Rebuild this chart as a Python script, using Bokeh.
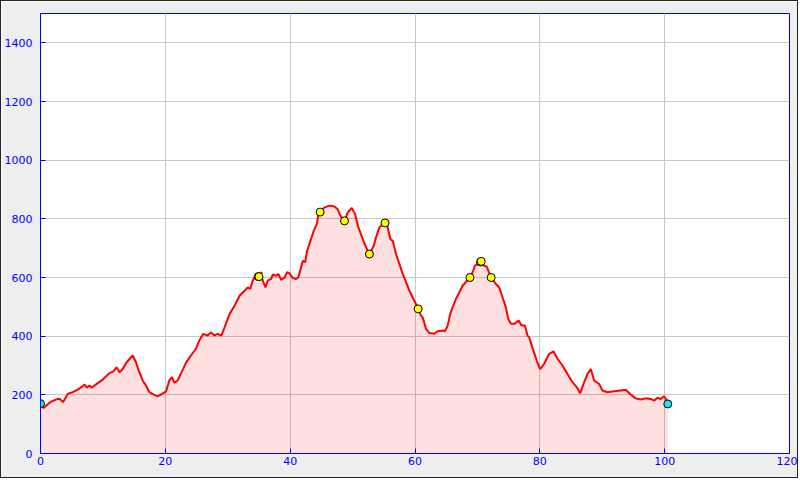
from bokeh.plotting import figure
from bokeh.models import Range1d, FixedTicker
from bokeh.embed import file_html
from bokeh.resources import INLINE

# Distance (km) and elevation (m) of the profile
km = [0, 0.5, 1.7, 2.77, 3.1, 3.6, 4.4, 5.17, 5.97, 6.56, 7.07, 7.41, 7.84, 8.18,
      9.17, 9.87, 11.04, 11.68, 12.18, 12.66, 13.17, 13.8, 14.77, 15.3, 15.73,
      16.37, 16.9, 17.44, 18.24, 18.77, 19.47, 20.1, 20.64, 21.07, 21.44, 21.97,
      22.67, 23.3, 24.1, 24.9, 25.44, 26.08, 26.77, 27.3, 27.84, 28.37, 28.96,
      29.49, 30.3, 31.1, 31.9, 32.7, 33.2, 33.6, 34.0, 34.56, 34.93, 35.36, 35.6,
      36.05, 36.4, 36.96, 37.2, 37.76, 38.1, 38.56, 39.1, 39.52, 39.9, 40.43,
      40.96, 41.3, 41.6, 42.03, 42.4, 42.72, 43.25, 43.79, 44.27, 44.53, 44.8,
      45.5, 46.3, 47.1, 47.6, 48.05, 48.7, 49.23, 49.87, 50.4, 50.93, 51.63,
      52.16, 52.69, 53.4, 53.76, 54.3, 54.56, 55.2, 55.63, 56.05, 56.43, 56.96,
      57.5, 58.03, 58.56, 59.1, 59.63, 60.53, 60.96, 61.23, 61.76, 62.3, 63.1,
      63.63, 64.43, 64.8, 65.23, 65.65, 66.03, 66.56, 67.1, 67.63, 68.8, 69.23,
      69.6, 70.1, 70.56, 71.1, 71.5, 72.16, 72.96, 73.5, 74.03, 74.56, 74.93,
      75.36, 75.9, 76.6, 77.07, 77.6, 78.03, 78.3, 78.83, 79.5, 80.05, 80.7,
      81.5, 82.2, 82.83, 83.63, 84.43, 85.23, 86.0, 86.45, 87.1, 87.63, 88.16,
      88.7, 89.5, 90.03, 90.83, 91.9, 92.96, 93.76, 94.56, 95.36, 96.16, 96.96,
      97.76, 98.3, 98.83, 99.36, 99.9, 100.27, 100.5]
elev = [165, 155, 177, 186, 186, 175, 204, 209, 218, 226, 235, 224, 232, 224,
        240, 250, 274, 280, 294, 277, 288, 311, 334, 311, 283,
        249, 232, 209, 200, 195, 203, 211, 249, 260, 241, 249,
        280, 309, 334, 357, 385, 408, 402, 413, 402, 408, 402,
        430, 476, 504, 538, 555, 566, 561, 589, 612, 610, 618, 589,
        566, 589, 595, 610, 606, 612, 592, 600, 618, 614, 598,
        595, 600, 623, 657, 652, 691, 725, 760, 782, 816, 823,
        839, 845, 842, 833, 811, 793, 822, 837, 816, 771, 731,
        703, 680, 708, 737, 771, 777, 786, 771, 731, 725, 680,
        646, 612, 584, 555, 532, 493, 470, 464, 425, 411, 408,
        417, 419, 417, 436, 476, 498, 527, 549, 572, 600, 618,
        640, 648, 648, 640, 637, 600, 578, 566, 532, 498, 459,
        442, 442, 453, 436, 436, 402, 396, 360, 317, 288, 306,
        340, 348, 323, 300, 271, 243, 224, 205, 243, 271, 288,
        249, 237, 215, 209, 212, 215, 217, 201, 188, 184, 188,
        186, 180, 190, 186, 195, 183, 169]

# Waypoints (yellow) and start/end points (cyan)
wp_km = [34.9, 35.0, 44.8, 48.7, 52.7, 55.2, 60.5, 68.8, 70.5, 70.6, 72.2]
wp_elev = [603, 603, 823, 793, 680, 786, 493, 600, 653, 655, 600]
end_km = [0, 100.5]
end_elev = [170, 169]

x_ticks = [0, 20, 40, 60, 80, 100, 120]
y_ticks = [0, 200, 400, 600, 800, 1000, 1200, 1400]

p = figure(width=798, height=478, output_backend="svg", toolbar_location=None,
           x_range=Range1d(0, 120), y_range=Range1d(0, 1500),
           min_border_left=38, min_border_right=10, min_border_top=12,
           min_border_bottom=26)
p.background_fill_color = "white"
p.border_fill_color = "#eeeeee"
p.outline_line_color = "blue"
p.outline_line_width = 1
p.styles = {"border": "1px solid #222222"}

p.xaxis.ticker = FixedTicker(ticks=x_ticks)
p.yaxis.ticker = FixedTicker(ticks=y_ticks)
for ax in (p.xaxis, p.yaxis):
    ax.axis_line_color = "blue"
    ax.major_tick_line_color = "blue"
    ax.major_tick_in = 5
    ax.major_tick_out = 0
    ax.minor_tick_in = 0
    ax.minor_tick_out = 0
    ax.minor_tick_line_color = None
    ax.major_label_text_color = "blue"
    ax.major_label_text_font = "DejaVu Sans"
    ax.major_label_text_font_size = "11px"
p.xaxis.major_label_standoff = 3
p.yaxis.major_label_standoff = 8
p.grid.grid_line_color = "#c8c8c8"
p.grid.grid_line_width = 1

p.varea(x=km, y1=[0] * len(km), y2=elev, fill_color="red", fill_alpha=0.12)
p.line(km, elev, line_color="red", line_width=2)
p.scatter(wp_km, wp_elev, size=8, fill_color="yellow", line_color="black", line_width=1)
p.scatter(end_km, end_elev, size=8, fill_color="#22e0f0", line_color="black", line_width=1)

open("out.html", "w").write(file_html(p, INLINE))
